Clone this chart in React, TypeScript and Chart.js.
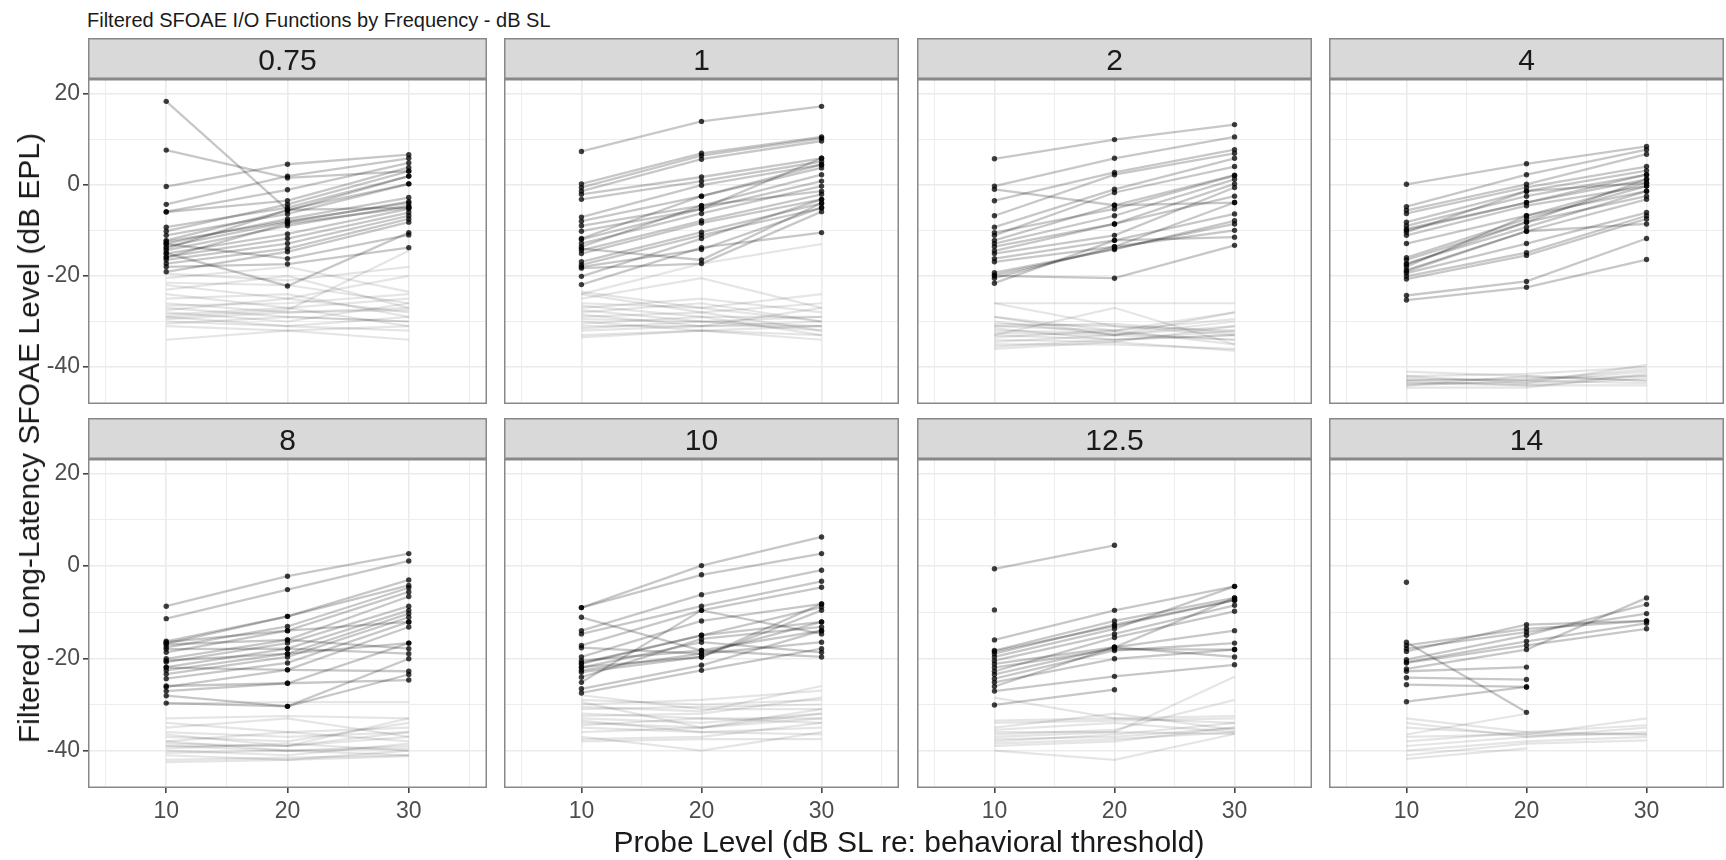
import React, { useEffect, useRef } from "react";
import { Chart, registerables } from "chart.js";

Chart.register(...registerables);

const FONT = '"Liberation Sans", Arial, Helvetica, sans-serif';

// ---------------- data ----------------
const probeLevels = [10, 20, 30];
const xTickLabels = [10, 20, 30];
const yTickLabels = [-40, -20, 0, 20];
const frequencies = ["0.75", "1", "2", "4", "8", "10", "12.5", "14"];

const signal_0_75 = [
  [18.3, -5.5, -5.0], [7.6, 1.5, 3.0], [-0.4, 4.5, 6.6], [-4.3, 1.9, 5.8],
  [-5.9, -1.1, 4.8], [-6.0, -3.5, 3.8], [-9.3, -5.0, 1.9], [-10.2, -4.3, 3.0],
  [-11.1, -6.4, 0.2], [-12.2, -5.7, 1.9], [-12.9, -7.5, -2.8], [-13.6, -8.2, -3.7],
  [-14.4, -9.0, -4.6], [-15.1, -10.8, -5.3], [-15.8, -11.8, -6.1], [-16.5, -12.9, -6.8],
  [-17.3, -14.0, -7.5], [-19.1, -14.7, -8.2], [-15.0, -22.2, -10.5], [-13.0, -16.2, -11.0],
  [-14.0, -5.5, 0.2], [-12.5, -8.0, -4.0], [-16.0, -8.5, -5.0], [-18.0, -17.4, -13.8],
];
const noise_0_75 = [
  [-21.5, -22.0, -26.0], [-22.0, -25.0, -20.0], [-23.0, -20.0, -27.0], [-24.0, -27.0, -25.0],
  [-25.0, -24.0, -29.0], [-26.0, -28.0, -27.0], [-26.5, -26.0, -24.0], [-27.0, -29.0, -30.0],
  [-27.5, -25.0, -28.0], [-28.0, -30.0, -26.0], [-28.5, -27.0, -31.0], [-29.0, -31.0, -29.0],
  [-29.5, -28.0, -27.5], [-30.0, -31.0, -32.0], [-30.5, -29.0, -30.0], [-31.0, -32.0, -31.0],
  [-34.0, -32.0, -34.0], [-29.0, -27.5, -14.5], [-19.5, -21.0, -18.0], [-20.5, -18.0, -23.5],
];

const signal_1 = [
  [7.3, 13.9, 17.2], [0.2, 6.9, 10.5], [-0.6, 6.4, 10.2], [-1.4, 5.6, 9.6],
  [-2.1, 1.7, 5.8], [-3.2, 0.8, 5.1], [-7.1, -0.1, 4.4], [-8.0, -2.5, 3.7],
  [-9.0, -4.6, 2.2], [-10.2, -5.3, 0.8], [-11.8, -2.5, 4.4], [-12.9, -6.3, -0.3],
  [-13.6, -4.6, -1.4], [-14.4, -7.9, -2.1], [-15.1, -8.4, -3.2], [-16.9, -10.4, -4.1],
  [-17.6, -11.1, -5.1], [-18.3, -17.3, -5.9], [-20.1, -11.8, -3.2], [-21.9, -13.8, -10.5],
  [-18.0, -14.2, -5.0], [-14.0, -16.5, -4.0], [-12.0, -5.3, 5.8],
];
const noise_1 = [
  [-24.0, -28.0, -26.0], [-25.0, -20.5, -27.0], [-26.0, -27.0, -24.0], [-26.5, -29.0, -29.0],
  [-27.0, -25.0, -28.0], [-27.5, -30.0, -31.0], [-28.0, -26.0, -30.0], [-28.5, -31.0, -27.0],
  [-29.0, -28.0, -32.0], [-29.5, -30.0, -29.0], [-30.0, -32.0, -31.0], [-30.5, -29.0, -33.0],
  [-31.0, -31.0, -30.0], [-31.5, -30.0, -32.0], [-32.0, -31.0, -31.0], [-33.0, -32.0, -34.0],
  [-33.5, -32.0, -33.0], [-23.5, -27.0, -30.0], [-24.0, -17.3, -13.0],
];

const signal_2 = [
  [5.7, 9.9, 13.2], [-0.3, 5.8, 10.5], [-1.0, -4.5, -3.9], [-3.5, 2.7, 7.7],
  [-6.8, 2.2, 6.9], [-9.3, -1.0, 5.8], [-11.1, -1.7, 4.0], [-12.2, -4.5, 2.1],
  [-12.9, -6.8, 1.2], [-13.6, -8.6, 0.2], [-15.1, -11.1, -0.6], [-16.2, -12.2, -6.4],
  [-16.9, -13.6, -3.9], [-19.3, -14.2, -7.9], [-20.0, -20.5, -13.3], [-20.5, -13.6, -10.0],
  [-21.6, -12.2, -11.5], [-10.5, -5.3, 2.0], [-14.5, -8.6, -2.5], [-19.8, -14.0, -8.6],
];
const noise_2 = [
  [-26.0, -31.0, -32.0], [-26.0, -26.0, -26.0], [-29.0, -32.0, -28.0], [-30.0, -33.0, -31.0],
  [-30.5, -31.0, -33.0], [-31.0, -32.0, -29.5], [-31.5, -34.0, -32.0], [-32.0, -32.5, -34.0],
  [-32.5, -33.0, -30.0], [-33.0, -34.0, -33.0], [-33.5, -32.0, -35.0], [-34.0, -34.5, -31.0],
  [-34.5, -33.0, -34.0], [-35.0, -35.0, -36.0], [-35.5, -34.0, -33.0], [-33.0, -27.0, -35.0],
  [-29.0, -33.0, -28.0], [-31.0, -30.5, -32.5], [-36.0, -34.5, -36.4],
];

const signal_4 = [
  [0.1, 4.6, 8.4], [-4.8, 2.2, 7.7], [-5.6, 0.1, 6.7], [-6.3, -0.6, 4.0],
  [-8.2, -1.4, 3.1], [-9.0, -2.5, 2.2], [-9.7, -3.9, 1.2], [-10.4, -1.4, 0.4],
  [-11.1, -4.6, -0.3], [-12.9, -6.8, -1.4], [-16.0, -7.5, -0.3], [-16.5, -8.2, -2.5],
  [-17.3, -9.3, -1.4], [-18.0, -6.8, 0.4], [-18.7, -10.2, -3.2], [-19.4, -12.9, -6.1],
  [-20.1, -14.9, -6.8], [-20.7, -15.5, -7.5], [-19.0, -10.2, -8.6], [-24.3, -21.2, -11.8],
  [-25.3, -22.5, -16.4], [-17.5, -8.2, 1.2], [-10.0, -3.9, 2.2],
];
const noise_4 = [
  [-41.0, -42.0, -43.0], [-42.0, -41.5, -40.0], [-42.5, -43.0, -41.0], [-43.0, -42.5, -42.0],
  [-43.5, -44.0, -42.5], [-44.0, -43.0, -43.5], [-44.5, -44.5, -41.5], [-43.0, -44.0, -44.0],
  [-42.0, -43.5, -39.5], [-44.0, -42.0, -43.0], [-43.5, -43.5, -42.0], [-42.8, -42.8, -40.5],
];

const signal_8 = [
  [-8.7, -2.2, 2.7], [-11.4, -5.1, 1.1], [-16.3, -10.9, -3.0], [-16.8, -10.9, -4.2],
  [-17.6, -13.1, -4.7], [-18.7, -14.0, -5.6], [-20.1, -16.0, -6.6], [-20.8, -16.7, -8.7],
  [-21.9, -17.9, -9.6], [-22.6, -19.0, -10.3], [-23.4, -19.7, -11.1], [-24.4, -21.0, -12.1],
  [-26.2, -22.5, -13.2], [-27.1, -25.4, -16.7], [-28.1, -30.4, -20.1], [-29.7, -30.4, -23.5],
  [-17.0, -16.0, -17.9], [-18.0, -17.9, -19.0], [-22.0, -22.5, -22.8], [-26.0, -25.4, -24.7],
  [-16.5, -14.0, -12.1], [-20.5, -19.0, -16.7],
];
const noise_8 = [
  [-29.8, -29.5, -29.5], [-33.0, -32.5, -33.0], [-34.0, -36.0, -35.0], [-35.0, -33.0, -37.0],
  [-36.0, -37.0, -36.0], [-37.0, -38.0, -34.0], [-38.0, -36.0, -38.0], [-38.5, -39.0, -37.0],
  [-39.0, -40.0, -39.0], [-39.5, -38.5, -40.0], [-40.0, -41.0, -38.5], [-40.5, -40.0, -41.0],
  [-41.0, -42.0, -40.0], [-42.0, -41.5, -41.0], [-42.5, -42.0, -41.2], [-36.5, -39.0, -36.0],
  [-38.0, -40.0, -39.5], [-39.0, -39.0, -33.0],
];

const signal_10 = [
  [-9.0, 0.1, 6.3], [-9.0, -1.9, 2.7], [-11.1, -18.3, -14.0], [-14.0, -6.2, -0.9],
  [-14.7, -8.7, -3.3], [-17.2, -9.6, -4.6], [-17.7, -19.0, -16.5], [-19.7, -11.9, -8.2],
  [-21.2, -15.0, -8.9], [-21.9, -19.7, -9.6], [-22.6, -19.0, -12.1], [-25.2, -9.6, -14.7],
  [-24.1, -15.8, -13.2], [-26.6, -21.5, -14.0], [-27.5, -22.6, -17.9], [-22.0, -16.5, -18.7],
  [-20.5, -18.3, -19.7], [-23.0, -19.7, -8.2], [-21.0, -15.0, -12.1],
];
const noise_10 = [
  [-28.0, -31.0, -31.0], [-29.0, -30.0, -29.0], [-30.0, -29.0, -27.0], [-30.5, -31.5, -26.0],
  [-31.0, -30.5, -30.0], [-32.0, -33.0, -33.0], [-32.5, -32.0, -28.5], [-33.0, -34.0, -32.0],
  [-34.0, -35.0, -31.0], [-34.5, -33.0, -34.0], [-35.0, -36.0, -35.0], [-36.0, -35.0, -33.0],
  [-37.0, -40.0, -36.0], [-37.5, -37.0, -34.0], [-38.0, -37.5, -37.5], [-29.5, -35.0, -32.0],
  [-33.5, -36.0, -36.5],
];

const signal_12_5 = [
  [-0.6, 4.5, null], [-9.5, null, null], [-16.0, -9.6, -4.4], [-18.3, -11.9, -6.9],
  [-19.0, -12.7, -7.4], [-19.7, -13.6, -4.4], [-20.5, -14.7, -8.5], [-21.2, -17.6, -6.9],
  [-22.8, -15.5, -9.8], [-23.5, -17.6, -14.0], [-24.4, -18.3, -16.7], [-25.2, -20.1, -18.1],
  [-26.1, -17.6, -19.7], [-27.1, -23.9, -21.4], [-30.1, -26.8, null], [-22.0, -18.0, -18.1],
  [-18.5, -13.0, -7.4],
];
const noise_12_5 = [
  [-33.5, -33.0, -34.0], [-34.0, -33.5, -33.0], [-35.0, -32.0, -35.5], [-35.5, -34.0, -36.0],
  [-36.0, -36.0, -24.0], [-36.5, -35.5, -29.0], [-37.0, -36.0, -36.4], [-37.5, -37.0, -35.0],
  [-38.0, -36.5, -34.0], [-38.5, -37.5, -36.0], [-39.0, -38.0, -35.0], [-40.0, -42.0, -36.4],
  [-28.5, -33.0, -32.5],
];

const signal_14 = [
  [-3.5, null, null], [-16.5, -31.7, null], [-17.2, -13.6, -11.9], [-17.9, -14.3, -10.3],
  [-20.3, -15.0, -8.3], [-20.8, -16.3, -12.4], [-22.3, -18.1, -6.9], [-22.8, -21.9, null],
  [-24.2, -24.6, null], [-25.7, -26.2, null], [-29.4, -26.2, null], [-18.5, -12.7, -11.9],
  [-21.0, -17.2, -13.6],
];
const noise_14 = [
  [-33.0, -36.0, -36.5], [-34.0, -37.0, -35.0], [-35.0, -36.5, -33.0], [-36.5, -32.0, null],
  [-37.0, -36.5, -36.5], [-38.0, -36.0, -34.5], [-39.0, -37.0, -36.0], [-40.0, -38.0, -37.0],
  [-41.0, -38.5, -37.8], [-41.8, -39.5, null],
];

const panels = [
  { freq: frequencies[0], signal: signal_0_75, noise: noise_0_75 },
  { freq: frequencies[1], signal: signal_1, noise: noise_1 },
  { freq: frequencies[2], signal: signal_2, noise: noise_2 },
  { freq: frequencies[3], signal: signal_4, noise: noise_4 },
  { freq: frequencies[4], signal: signal_8, noise: noise_8 },
  { freq: frequencies[5], signal: signal_10, noise: noise_10 },
  { freq: frequencies[6], signal: signal_12_5, noise: noise_12_5 },
  { freq: frequencies[7], signal: signal_14, noise: noise_14 },
];

// ---------------- layout ----------------
const X_MIN = 3.55;
const X_MAX = 36.45;
const Y_MIN = -48.1;
const Y_MAX = 23.2;
const PLOT_W = 403;
const PLOT_H = 329;
const STRIP_H = 41;
const COL_LEFT = [88, 500, 913, 1325];
const ROW_TOP = [38, 418];
const Y_AXIS_W = 88;
const X_AXIS_H = 40;

const facetPlugin = {
  id: "facet",
  beforeDraw(chart: any, _args: any, opts: any) {
    const { ctx, chartArea } = chart;
    const l = chartArea.left;
    const r = chartArea.right;
    const t = chartArea.top - STRIP_H;
    ctx.save();
    ctx.fillStyle = "#d9d9d9";
    ctx.fillRect(l, t, r - l, STRIP_H);
    ctx.strokeStyle = "#888888";
    ctx.lineWidth = 1.5;
    ctx.strokeRect(l + 0.75, t + 0.75, r - l - 1.5, STRIP_H - 1.5);
    ctx.fillStyle = "#1a1a1a";
    ctx.font = `30px ${FONT}`;
    ctx.textAlign = "center";
    ctx.textBaseline = "alphabetic";
    ctx.fillText(opts.text, (l + r) / 2, t + STRIP_H / 2 + 11);
    ctx.restore();
  },
  afterDraw(chart: any) {
    const { ctx, chartArea } = chart;
    ctx.save();
    ctx.strokeStyle = "#888888";
    ctx.lineWidth = 1.5;
    ctx.strokeRect(
      chartArea.left + 0.75,
      chartArea.top + 0.75,
      chartArea.right - chartArea.left - 1.5,
      chartArea.bottom - chartArea.top - 1.5
    );
    ctx.restore();
  },
};

function toPoints(values: (number | null)[]) {
  return values.map((v, i) => ({ x: probeLevels[i], y: v }));
}

function Panel({ index }: { index: number }) {
  const ref = useRef<HTMLCanvasElement | null>(null);
  const col = index % 4;
  const row = Math.floor(index / 4);
  const left = col === 0 ? 0 : COL_LEFT[col];
  const width = col === 0 ? COL_LEFT[0] + PLOT_W : PLOT_W;
  const top = ROW_TOP[row];
  const height = STRIP_H + PLOT_H + (row === 1 ? X_AXIS_H : 0);

  useEffect(() => {
    const p = panels[index];
    const signalSets = p.signal.map((s) => ({
      data: toPoints(s),
      showLine: true,
      borderColor: "rgba(0,0,0,0.22)",
      borderWidth: 2.3,
      pointRadius: 2.7,
      pointBackgroundColor: "rgba(0,0,0,0.75)",
      pointBorderWidth: 0,
      spanGaps: false,
    }));
    const noiseSets = p.noise.map((s) => ({
      data: toPoints(s),
      showLine: true,
      borderColor: "rgba(0,0,0,0.1)",
      borderWidth: 2.2,
      pointRadius: 0,
      spanGaps: false,
    }));
    const chart = new Chart(ref.current as HTMLCanvasElement, {
      type: "scatter",
      data: { datasets: [...signalSets, ...noiseSets] as any },
      plugins: [facetPlugin as any],
      options: {
        animation: false,
        responsive: false,
        events: [],
        layout: { padding: { top: STRIP_H, left: 0, right: 0, bottom: 0 } },
        plugins: {
          legend: { display: false },
          tooltip: { enabled: false },
          facet: { text: p.freq },
        } as any,
        scales: {
          x: {
            type: "linear",
            min: X_MIN,
            max: X_MAX,
            border: { display: false },
            grid: {
              color: "#ebebeb",
              lineWidth: (c: any) => (c.tick && c.tick.value % 10 === 0 ? 1.6 : 0.9),
              drawTicks: row === 1,
              tickLength: 5,
              tickColor: (c: any) =>
                c.tick && xTickLabels.includes(c.tick.value) ? "#444444" : "rgba(0,0,0,0)",
            },
            ticks: {
              display: row === 1,
              stepSize: 5,
              includeBounds: false,
              autoSkip: false,
              maxRotation: 0,
              padding: 5,
              color: "#4d4d4d",
              font: { family: FONT, size: 23 },
              callback: (v: any) => (xTickLabels.includes(v) ? String(v) : ""),
            },
            afterFit: (s: any) => {
              s.height = row === 1 ? X_AXIS_H : 0;
              s.paddingLeft = 0;
              s.paddingRight = 0;
            },
          },
          y: {
            type: "linear",
            min: Y_MIN,
            max: Y_MAX,
            border: { display: false },
            grid: {
              color: "#ebebeb",
              lineWidth: (c: any) => (c.tick && c.tick.value % 20 === 0 ? 1.6 : 0.9),
              drawTicks: col === 0,
              tickLength: 5,
              tickColor: (c: any) =>
                c.tick && yTickLabels.includes(c.tick.value) ? "#444444" : "rgba(0,0,0,0)",
            },
            ticks: {
              display: col === 0,
              stepSize: 10,
              includeBounds: false,
              autoSkip: false,
              padding: 3,
              color: "#4d4d4d",
              font: { family: FONT, size: 23 },
              callback: (v: any) => (yTickLabels.includes(v) ? String(v) : ""),
            },
            afterFit: (s: any) => {
              s.width = col === 0 ? Y_AXIS_W : 0;
              s.paddingTop = 0;
              s.paddingBottom = 0;
            },
          },
        },
      } as any,
    });
    return () => chart.destroy();
  }, [index]);

  return (
    <canvas
      ref={ref}
      width={width}
      height={height}
      style={{ position: "absolute", left, top, width, height, display: "block" }}
    />
  );
}

export default function App() {
  return (
    <div
      style={{
        position: "fixed",
        left: 0,
        top: 0,
        width: 1726,
        height: 860,
        overflow: "hidden",
        background: "#ffffff",
        fontFamily: FONT,
      }}
    >
      <div
        style={{
          position: "absolute",
          left: 87,
          top: 10,
          fontSize: 20,
          lineHeight: "20px",
          color: "#1a1a1a",
          whiteSpace: "nowrap",
        }}
      >
        Filtered SFOAE I/O Functions by Frequency - dB SL
      </div>
      {panels.map((_, i) => (
        <Panel key={i} index={i} />
      ))}
      <div
        style={{
          position: "absolute",
          left: 29,
          top: 438,
          transform: "translate(-50%, -50%) rotate(-90deg)",
          fontSize: 30,
          lineHeight: "30px",
          color: "#1a1a1a",
          whiteSpace: "nowrap",
        }}
      >
        Filtered Long-Latency SFOAE Level (dB EPL)
      </div>
      <div
        style={{
          position: "absolute",
          left: 909,
          top: 842,
          transform: "translate(-50%, -50%)",
          fontSize: 30,
          lineHeight: "30px",
          color: "#1a1a1a",
          whiteSpace: "nowrap",
        }}
      >
        Probe Level (dB SL re: behavioral threshold)
      </div>
    </div>
  );
}
